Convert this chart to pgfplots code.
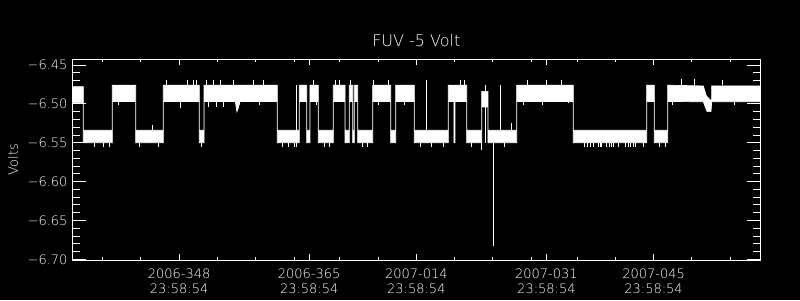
\documentclass[border=0pt]{standalone}
\usepackage{fontspec}
\setmainfont{DejaVu Sans ExtraLight}
\usepackage{pgfplots}
\usepackage{pgfplotstable}
\pgfplotsset{compat=1.18}
% band envelope: upper edge left->right, lower edge right->left
\pgfplotstableread{
x y
334.00 -6.478
335.48 -6.478
335.48 -6.534
339.27 -6.534
339.27 -6.476
342.32 -6.476
342.32 -6.534
345.93 -6.534
345.93 -6.476
350.64 -6.476
350.64 -6.534
351.25 -6.534
351.25 -6.476
360.83 -6.476
360.83 -6.534
363.70 -6.534
363.70 -6.476
364.67 -6.476
364.67 -6.534
365.10 -6.534
365.10 -6.476
366.19 -6.476
366.19 -6.534
368.15 -6.534
368.15 -6.476
369.68 -6.476
369.68 -6.534
370.24 -6.534
370.24 -6.476
370.68 -6.476
370.68 -6.534
370.89 -6.534
370.89 -6.476
371.34 -6.476
371.34 -6.534
373.30 -6.534
373.30 -6.476
375.65 -6.476
375.65 -6.534
376.30 -6.534
376.30 -6.476
378.73 -6.476
378.73 -6.534
383.18 -6.534
383.18 -6.476
383.92 -6.476
383.92 -6.534
384.05 -6.534
384.05 -6.476
385.58 -6.476
385.58 -6.534
387.54 -6.534
387.54 -6.484
388.36 -6.484
388.36 -6.534
392.12 -6.534
392.12 -6.476
399.51 -6.476
399.51 -6.534
409.10 -6.534
409.10 -6.476
410.10 -6.476
410.10 -6.534
411.85 -6.534
411.85 -6.476
416.50 -6.477
416.90 -6.490
417.40 -6.495
417.60 -6.495
417.60 -6.477
424.00 -6.477
424.00 -6.4973
417.60 -6.4973
417.50 -6.510
417.00 -6.510
416.50 -6.4973
411.85 -6.497
411.85 -6.550
410.10 -6.550
410.10 -6.497
409.10 -6.497
409.10 -6.550
399.51 -6.550
399.51 -6.497
392.12 -6.497
392.12 -6.550
388.36 -6.550
388.36 -6.504
387.54 -6.504
387.54 -6.550
385.58 -6.550
385.58 -6.497
384.05 -6.497
384.05 -6.550
383.92 -6.550
383.92 -6.497
383.18 -6.497
383.18 -6.550
378.73 -6.550
378.73 -6.497
376.30 -6.497
376.30 -6.550
375.65 -6.550
375.65 -6.497
373.30 -6.497
373.30 -6.550
371.34 -6.550
371.34 -6.497
370.89 -6.497
370.89 -6.550
370.68 -6.550
370.68 -6.497
370.24 -6.497
370.24 -6.550
369.68 -6.550
369.68 -6.497
368.15 -6.497
368.15 -6.550
366.19 -6.550
366.19 -6.497
365.10 -6.497
365.10 -6.550
364.67 -6.550
364.67 -6.497
363.70 -6.497
363.70 -6.550
360.83 -6.550
360.83 -6.497
355.95 -6.497
355.75 -6.505
355.55 -6.510
355.35 -6.497
351.25 -6.497
351.25 -6.550
350.64 -6.550
350.64 -6.497
345.93 -6.497
345.93 -6.550
342.32 -6.550
342.32 -6.497
339.27 -6.497
339.27 -6.550
335.48 -6.550
335.48 -6.4985
334.00 -6.4985
}\bandtable
% individual spikes, separated by nan rows
\pgfplotstableread{
x y
336.91 -6.550
336.91 -6.555
nan nan
338.09 -6.550
338.09 -6.555
nan nan
338.87 -6.550
338.87 -6.555
nan nan
342.76 -6.550
342.76 -6.555
nan nan
345.28 -6.550
345.28 -6.555
nan nan
350.90 -6.550
350.90 -6.555
nan nan
361.50 -6.550
361.50 -6.555
nan nan
362.30 -6.550
362.30 -6.555
nan nan
363.00 -6.550
363.00 -6.555
nan nan
367.00 -6.550
367.00 -6.555
nan nan
367.60 -6.550
367.60 -6.555
nan nan
372.00 -6.550
372.00 -6.555
nan nan
372.60 -6.550
372.60 -6.555
nan nan
379.50 -6.550
379.50 -6.555
nan nan
381.00 -6.550
381.00 -6.555
nan nan
382.50 -6.550
382.50 -6.555
nan nan
386.20 -6.550
386.20 -6.555
nan nan
390.50 -6.550
390.50 -6.555
nan nan
401.00 -6.550
401.00 -6.555
nan nan
401.40 -6.550
401.40 -6.555
nan nan
401.70 -6.550
401.70 -6.555
nan nan
402.13 -6.550
402.13 -6.555
nan nan
402.74 -6.550
402.74 -6.555
nan nan
403.00 -6.550
403.00 -6.555
nan nan
403.22 -6.550
403.22 -6.555
nan nan
403.87 -6.550
403.87 -6.555
nan nan
404.20 -6.550
404.20 -6.555
nan nan
404.50 -6.550
404.50 -6.555
nan nan
404.74 -6.550
404.74 -6.555
nan nan
405.39 -6.550
405.39 -6.555
nan nan
406.27 -6.550
406.27 -6.555
nan nan
406.66 -6.550
406.66 -6.555
nan nan
407.00 -6.550
407.00 -6.555
nan nan
407.30 -6.550
407.30 -6.555
nan nan
407.58 -6.550
407.58 -6.555
nan nan
408.66 -6.550
408.66 -6.555
nan nan
410.80 -6.550
410.80 -6.555
nan nan
411.50 -6.550
411.50 -6.555
nan nan
346.38 -6.476
346.38 -6.469
nan nan
349.12 -6.476
349.12 -6.469
nan nan
349.85 -6.476
349.85 -6.469
nan nan
350.30 -6.476
350.30 -6.469
nan nan
351.60 -6.476
351.60 -6.469
nan nan
352.47 -6.476
352.47 -6.469
nan nan
353.34 -6.476
353.34 -6.469
nan nan
355.08 -6.476
355.08 -6.469
nan nan
357.69 -6.476
357.69 -6.469
nan nan
359.00 -6.476
359.00 -6.469
nan nan
365.60 -6.476
365.60 -6.469
nan nan
368.40 -6.476
368.40 -6.469
nan nan
368.90 -6.476
368.90 -6.469
nan nan
370.40 -6.476
370.40 -6.469
nan nan
373.40 -6.476
373.40 -6.469
nan nan
375.40 -6.476
375.40 -6.469
nan nan
384.80 -6.476
384.80 -6.469
nan nan
385.30 -6.476
385.30 -6.469
nan nan
393.50 -6.476
393.50 -6.469
nan nan
396.00 -6.476
396.00 -6.469
nan nan
398.00 -6.476
398.00 -6.469
nan nan
413.68 -6.476
413.68 -6.468
nan nan
415.33 -6.476
415.33 -6.468
nan nan
419.00 -6.476
419.00 -6.469
nan nan
340.05 -6.497
340.05 -6.5015
nan nan
348.11 -6.497
348.11 -6.5054
nan nan
351.81 -6.497
351.81 -6.5037
nan nan
352.91 -6.497
352.91 -6.5037
nan nan
353.77 -6.497
353.77 -6.5037
nan nan
358.50 -6.497
358.50 -6.502
nan nan
366.00 -6.497
366.00 -6.502
nan nan
374.00 -6.497
374.00 -6.502
nan nan
377.50 -6.497
377.50 -6.502
nan nan
393.00 -6.497
393.00 -6.502
nan nan
395.50 -6.497
395.50 -6.502
nan nan
398.86 -6.497
398.86 -6.4994
nan nan
412.50 -6.497
412.50 -6.502
nan nan
420.56 -6.497
420.56 -6.502
nan nan
380.36 -6.550
380.36 -6.469
nan nan
389.02 -6.550
389.02 -6.683
nan nan
389.93 -6.534
389.93 -6.476
nan nan
391.37 -6.534
391.37 -6.525
nan nan
344.45 -6.534
344.45 -6.527
nan nan
387.45 -6.550
387.45 -6.5595
nan nan
388.00 -6.476
388.00 -6.550
nan nan
363.30 -6.476
363.30 -6.555
}\spiketable
\begin{document}
\begin{tikzpicture}
\fill[black] (0pt,0pt) rectangle (800pt,300pt);
\begin{axis}[
  at={(72pt,39.7pt)}, anchor=south west,
  scale only axis, width=688.7pt, height=201pt,
  xmin=334, xmax=424, ymin=-6.7013, ymax=-6.4427,
  axis line style={white, line width=1pt},
  every tick/.style={white, line width=0.8pt},
  major tick length=6pt, minor tick length=3pt,
  xtick={348,365,379,396,410},
  xticklabels={{2006-348\\23:58:54},{2006-365\\23:58:54},{2007-014\\23:58:54},{2007-031\\23:58:54},{2007-045\\23:58:54}},
  minor xtick={338,343,353,358,363,369,374,384,389,394,400,405,415,420},
  ytick=\empty,
  xticklabel style={text=white, align=center, font=\fontsize{13}{15}\selectfont, inner sep=0pt, yshift=-8.4pt},
  title={FUV -5 Volt},
  title style={text=white, at={(0.5,1)}, anchor=base, yshift=6.6pt, font=\fontsize{16}{19}\selectfont},
  ylabel={Volts},
  every axis y label/.style={at={(axis description cs:0,0.5)}, xshift=-59pt, rotate=90, anchor=center, text=white, font=\fontsize{13}{15}\selectfont},
  clip=true,
]
\addplot[draw=white, fill=white, line width=0.7pt] table[x=x, y=y] {\bandtable};
\addplot[white, line width=0.8pt, unbounded coords=jump] table[x=x, y=y] {\spiketable};
\end{axis}
\begin{axis}[
  at={(72pt,39.7pt)}, anchor=south west,
  scale only axis, width=688.7pt, height=201pt,
  xmin=334, xmax=424, ymin=-6.7013, ymax=-6.4427,
  axis line style={white, line width=1pt},
  every tick/.style={white, line width=0.8pt},
  major tick length=14pt, minor tick length=7.5pt,
  xtick=\empty,
  ytick={-6.70,-6.65,-6.60,-6.55,-6.50,-6.45},
  yticklabels={−6.70,−6.65,−6.60,−6.55,−6.50,−6.45},
  minor y tick num=4,
  yticklabel style={text=white, font=\fontsize{13}{15}\selectfont, inner sep=0pt, xshift=-4.3pt},
]
\end{axis}
\end{tikzpicture}
\end{document}
